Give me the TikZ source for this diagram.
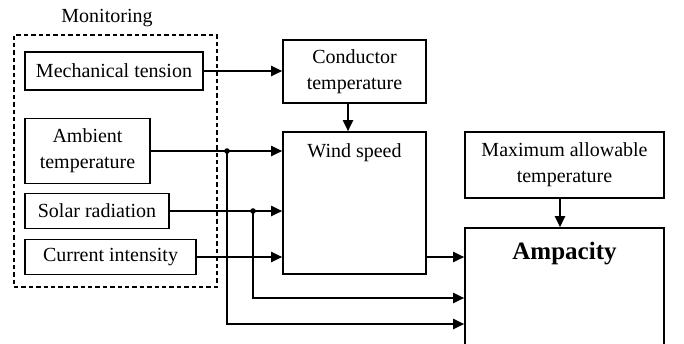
\documentclass[tikz,border=0pt]{standalone}
\usepackage{fontspec}
\setmainfont{Liberation Serif}
\usetikzlibrary{arrows.meta}
\begin{document}
\begin{tikzpicture}[x=0.5pt,y=-0.5pt,
  box/.style={draw,line width=0.8pt,inner sep=0pt,align=center,font=\fontsize{10}{13}\selectfont},
  lbl/.style={inner sep=0pt,align=center,font=\fontsize{10}{13}\selectfont},
  arr/.style={line width=0.95pt,-{Triangle[length=5.5pt,width=5pt]}},
  monbox/.style={draw,line width=0.6pt,dash pattern=on 2.2pt off 1.5pt,inner sep=0pt}]
\clip (0,0) rectangle (684,343);
% monitoring group
\node[monbox,minimum width=101.5pt,minimum height=126pt] (mon) at (115.5,161) {};
\node[lbl] (montxt) at (107,18) {Monitoring};
% input boxes
\node[box,minimum width=89pt,minimum height=19pt] (mech) at (114,71) {Mechanical tension};
\node[box,minimum width=62.5pt,minimum height=32.5pt] (amb) at (87.5,151) {Ambient\\temperature};
\node[box,minimum width=72pt,minimum height=17.5pt] (sol) at (97,211) {Solar radiation};
\node[box,minimum width=85.5pt,minimum height=17.5pt] (cur) at (110.5,257) {Current intensity};
% middle
\node[box,minimum width=71.5pt,minimum height=31.5pt] (cond) at (354.5,71.5) {Conductor\\temperature};
\node[box,minimum width=71.5pt,minimum height=71pt] (wind) at (354.5,203) {};
\node[lbl] (windt) at (354.5,153) {Wind speed};
% right
\node[box,minimum width=99.5pt,minimum height=33pt] (maxt) at (564.5,165) {Maximum allowable\\temperature};
\node[box,minimum width=99.5pt,minimum height=86pt] (amp) at (564.5,314) {};
\node[lbl,font=\bfseries\fontsize{12.5}{15}\selectfont] (ampt) at (564.5,253.5) {Ampacity};
% connectors
\draw[arr] (mech.east) -- (mech.east -| cond.west);
\coordinate (cs) at ([xshift=-3.25pt]cond.south);
\draw[arr] (cs) -- (cs |- wind.north);
\draw[arr] (amb.east) -- (amb.east -| wind.west);
\draw[arr] (sol.east) -- (sol.east -| wind.west);
\draw[arr] (cur.east) -- (cur.east -| wind.west);
\draw[arr] (cur.east -| wind.east) -- (cur.east -| amp.west);
\coordinate (ms) at ([xshift=-2.25pt]maxt.south);
\draw[arr] (ms) -- (ms |- amp.north);
% junctions
\coordinate (j1) at (227,151);
\coordinate (j2) at (253,211);
\coordinate (l1) at (227,324);
\coordinate (l2) at (253,298);
\draw[arr] (j1) -- (l1) -- (l1 -| amp.west);
\draw[arr] (j2) -- (l2) -- (l2 -| amp.west);
\fill (j1) circle (1.4pt);
\fill (j2) circle (1.4pt);
\end{tikzpicture}
\end{document}
